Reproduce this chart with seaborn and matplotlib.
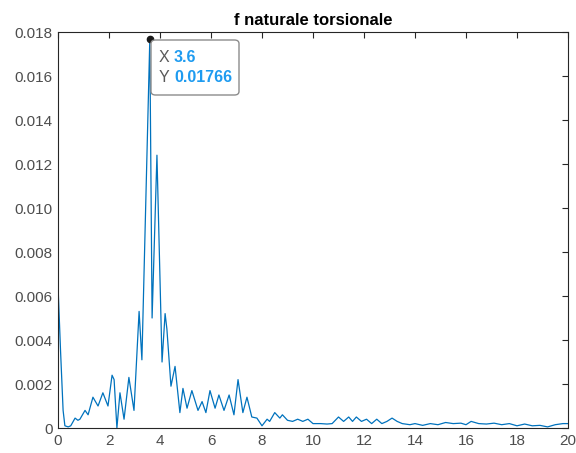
import matplotlib
matplotlib.use("Agg")
import matplotlib.pyplot as plt
import seaborn as sns
import pandas as pd
from matplotlib.ticker import FuncFormatter
from matplotlib.patches import FancyBboxPatch

freq = [0, 0.1, 0.2, 0.27, 0.4, 0.5, 0.67, 0.78, 0.86, 1.06, 1.18, 1.37, 1.57, 1.76,
        1.96, 2.12, 2.2, 2.31, 2.43, 2.59, 2.78, 2.98, 3.18, 3.29, 3.6, 3.69, 3.88,
        4.08, 4.2, 4.27, 4.43, 4.59, 4.78, 4.9, 5.06, 5.25, 5.49, 5.65, 5.8, 5.96,
        6.16, 6.31, 6.51, 6.71, 6.9, 7.06, 7.25, 7.41, 7.6, 7.8, 8.0, 8.2, 8.3, 8.5,
        8.7, 8.8, 9.0, 9.2, 9.4, 9.6, 9.8, 10.0, 10.3, 10.55, 10.75, 11.0, 11.2,
        11.4, 11.55, 11.7, 11.9, 12.1, 12.3, 12.5, 12.7, 12.9, 13.1, 13.3, 13.5,
        13.8, 14.0, 14.3, 14.6, 14.9, 15.2, 15.5, 15.8, 16.0, 16.2, 16.5, 16.8,
        17.1, 17.4, 17.7, 18.0, 18.3, 18.6, 18.9, 19.2, 19.5, 19.8, 20.0]
ampl = [0.0065, 0.0035, 0.0008, 0.0001, 0.00005, 0.0001, 0.00045, 0.00035, 0.0004,
        0.0008, 0.0006, 0.0014, 0.001, 0.0016, 0.001, 0.0024, 0.0022, 0.0, 0.0016,
        0.0004, 0.0023, 0.0008, 0.0053, 0.0031, 0.01766, 0.005, 0.0124, 0.003,
        0.0052, 0.0045, 0.0019, 0.0028, 0.0007, 0.0018, 0.0009, 0.0017, 0.0008,
        0.0012, 0.0007, 0.0017, 0.0009, 0.0015, 0.0008, 0.0015, 0.0006, 0.0022,
        0.0007, 0.0014, 0.0005, 0.00045, 0.0001, 0.0004, 0.0003, 0.0007, 0.00045,
        0.0006, 0.00035, 0.0003, 0.0004, 0.0003, 0.0004, 0.0002, 0.0002, 0.00018,
        0.0002, 0.0005, 0.0003, 0.0005, 0.0003, 0.0005, 0.0003, 0.0004, 0.0002,
        0.0004, 0.0002, 0.0003, 0.00045, 0.0003, 0.0002, 0.00015, 0.0002, 0.00012,
        0.0002, 0.00015, 0.00025, 0.0002, 0.00022, 0.00015, 0.0003, 0.0002,
        0.00018, 0.00022, 0.00015, 0.0002, 0.0001, 0.00018, 0.0001, 0.00012,
        0.00005, 0.00015, 0.0002, 0.0002]

tip_x = 3.6
tip_y = 0.01766
title = "f naturale torsionale"

sns.set_style("white")
plt.rcParams['font.family'] = ['Liberation Sans', 'DejaVu Sans']

W, H = 576, 453
fig = plt.figure(figsize=(W / 100, H / 100), dpi=100)
ax = fig.add_axes([58 / W, 25 / H, 510 / W, 396 / H])

df = pd.DataFrame({"f": freq, "a": ampl})
sns.lineplot(data=df, x="f", y="a", ax=ax, color="#0072BD", linewidth=0.9,
             estimator=None, sort=False)

ax.set_xlim(0, 20)
ax.set_ylim(0, 0.018)
ax.set_xticks(range(0, 21, 2))
ax.set_yticks([i * 0.002 for i in range(10)])
ax.yaxis.set_major_formatter(FuncFormatter(lambda v, p: "0" if abs(v) < 1e-12 else f"{v:.3f}"))
ax.set_xlabel("")
ax.set_ylabel("")
ax.set_title(title, fontsize=12, fontweight="bold", color="#000000", pad=5)

for s in ax.spines.values():
    s.set_color("#262626")
    s.set_linewidth(0.8)
ax.tick_params(direction="in", length=4, width=0.8, colors="#262626",
               labelsize=11, top=True, right=True, labelcolor="#4d4d4d", pad=4)

# data tip
ax.plot([tip_x], [tip_y], marker="o", markersize=4.5, color="#1a1a1a", zorder=5,
        clip_on=False)
box = FancyBboxPatch((151 / W, (H - 95) / H), 88 / W, 55 / H,
                     boxstyle="round,pad=0,rounding_size=0.008",
                     transform=fig.transFigure, fc="white", ec="#8c8c8c", lw=1.0,
                     zorder=10)
fig.add_artist(box)
fs = 11.5
fig.text(159 / W, (H - 58) / H, "X", fontsize=fs, color="#595959", va="center", ha="left", zorder=11)
fig.text(174 / W, (H - 58) / H, f"{tip_x:g}", fontsize=fs, color="#1E9BF0",
         fontweight="bold", va="center", ha="left", zorder=11)
fig.text(159 / W, (H - 78) / H, "Y", fontsize=fs, color="#595959", va="center", ha="left", zorder=11)
fig.text(174 / W, (H - 78) / H, f"{tip_y:g}", fontsize=fs, color="#1E9BF0",
         fontweight="bold", va="center", ha="left", zorder=11)

fig.savefig("out.png", dpi=100, facecolor="white")
